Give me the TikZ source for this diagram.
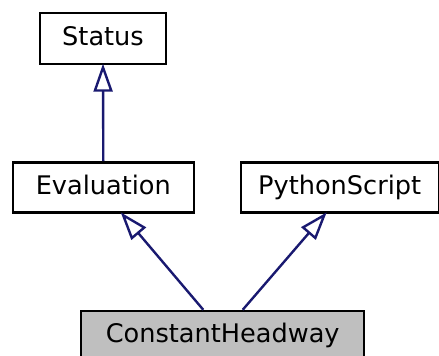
\documentclass[tikz,border=0pt]{standalone}
\usepackage{fontspec}
\setmainfont{DejaVu Sans}
\usetikzlibrary{arrows.meta}
\definecolor{edgeblue}{HTML}{191970}
\definecolor{hlgray}{HTML}{BFBFBF}
\begin{document}
\begin{tikzpicture}[x=1pt,y=-1pt,
  cls/.style={draw=black, line width=2.4pt, rectangle, inner sep=0pt,
    font=\fontsize{25.6}{30}\selectfont, text height=19pt, text depth=5pt, fill=white},
  inherit/.style={draw=edgeblue, line width=2.4pt, shorten >=-1.5pt,
    -{Triangle[open, length=28pt, width=19pt, line width=2.4pt]}}]
\useasboundingbox (0,0) rectangle (439,356);
\node[cls, minimum width=126pt, minimum height=51pt] (st) at (103,38.5) {Status};
\node[cls, minimum width=181pt, minimum height=50pt] (ev) at (103.3,187.3) {Evaluation};
\node[cls, minimum width=198pt, minimum height=50pt] (ps) at (339.7,187.3) {PythonScript};
\node[cls, fill=hlgray, minimum width=283pt, minimum height=48pt] (ch) at (222.7,335) {ConstantHeadway};
\draw[inherit] (ev.north) -- (st.south);
\draw[inherit] ([xshift=-19.4pt]ch.north) -- ([xshift=18.4pt]ev.south);
\draw[inherit] ([xshift=20pt]ch.north) -- ([xshift=-14pt]ps.south);
\end{tikzpicture}
\end{document}
